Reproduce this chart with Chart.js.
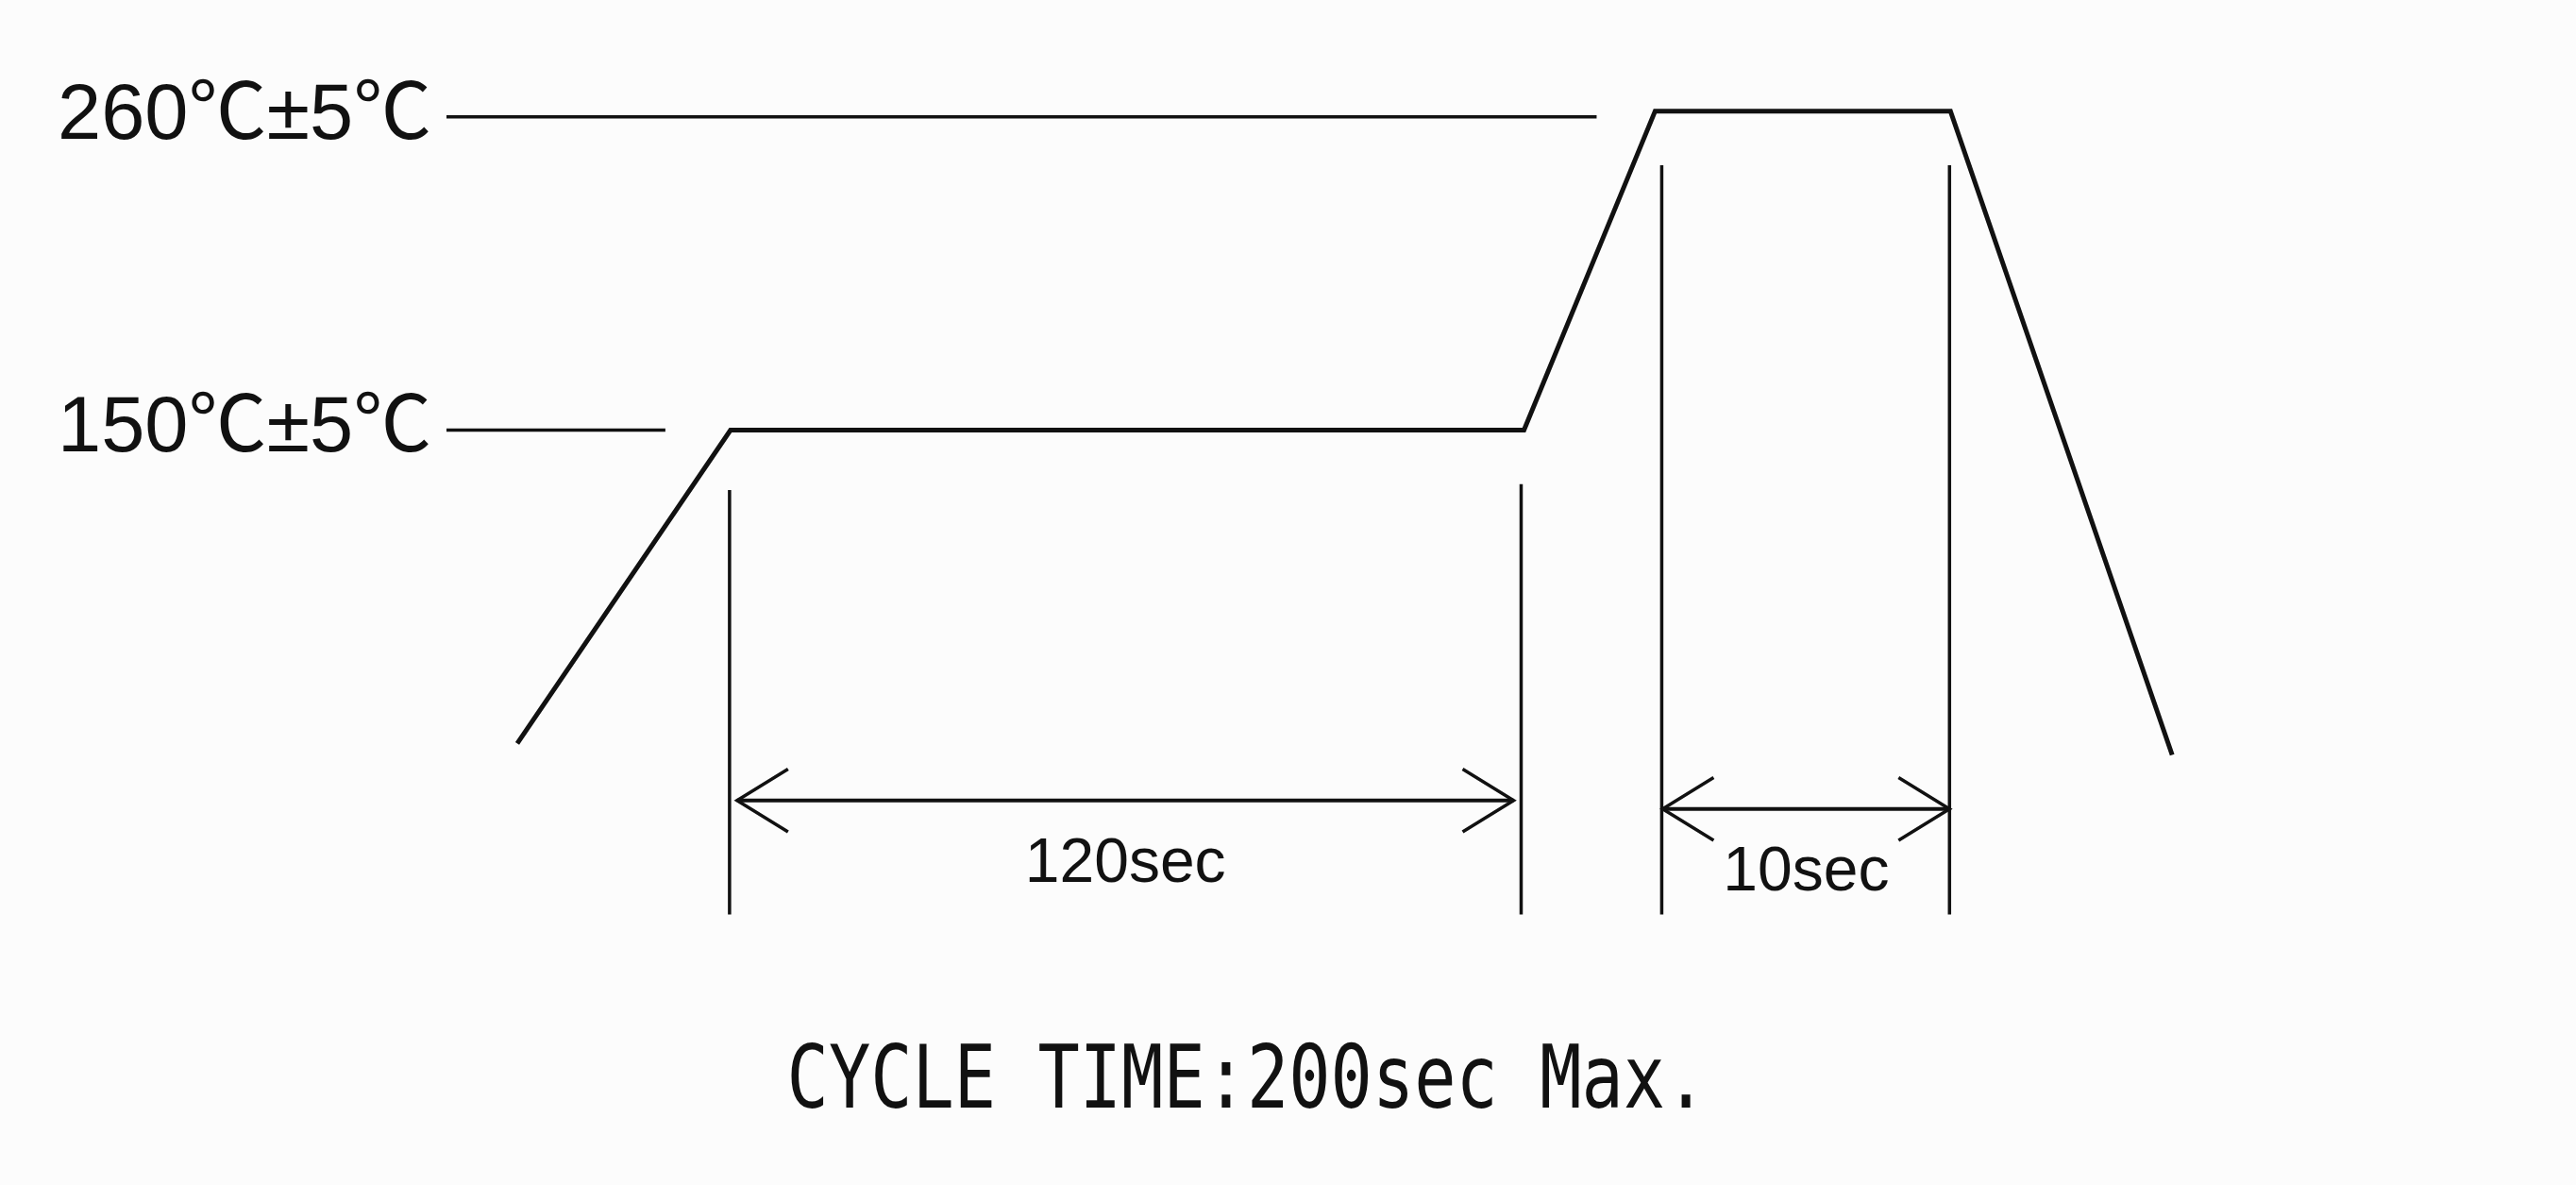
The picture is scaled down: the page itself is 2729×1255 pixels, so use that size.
<!DOCTYPE html>
<html>
<head>
<meta charset="utf-8">
<script src="https://cdn.jsdelivr.net/npm/chart.js@4/dist/chart.umd.min.js"></script>
<style>
  html, body { margin: 0; padding: 0; background: #fcfcfc; }
  #profileChart { display: block; }
</style>
</head>
<body>
<canvas id="profileChart" width="2729" height="1255"></canvas>
<script>
// temperature levels (°C) shown on the left, with their labels
const levelTemps = [150, 260];
const levelLabels = ["150℃±5℃", "260℃±5℃"];
// where each level line stops (schematic time units)
const levelLineEnd = [23.5, 122.2];

// reflow profile: schematic time axis (not to scale) vs temperature
const profileX = [7.8, 30.4, 114.5, 128.4, 159.7, 183.2];
const profileY = [40, 150, 150, 262, 262, 36];

// vertical dimension markers
const markerX = [30.3, 114.2, 129.1, 159.6];
const markerTop = [129, 131, 243, 243];
const markerBottom = -20;

// dimension arrows between the markers
const spanFrom = [31.1, 129.2];
const spanTo = [113.4, 159.6];
const spanY = [20, 17];
const spanLabels = ["120sec", "10sec"];

const footNote = "CYCLE TIME:200sec Max.";

/* styles */
const INK = "#111";
const SANS = '"Liberation Sans", Arial, "Noto Sans CJK JP", sans-serif';
const HEAD_DX = 5.4;   // arrow head length, x units
const HEAD_DY = 11;    // arrow head half height, °C

function seg(points, width) {
  return {
    data: points,
    borderColor: INK,
    borderWidth: width,
    pointRadius: 0,
    fill: false,
    tension: 0
  };
}

const datasets = [];

// profile
datasets.push(seg(profileX.map((x, i) => ({ x, y: profileY[i] })), 5));

// level lines
levelTemps.forEach((t, i) => {
  datasets.push(seg([{ x: 0.3, y: t }, { x: levelLineEnd[i], y: t }], 3.5));
});

// markers
markerX.forEach((x, i) => {
  datasets.push(seg([{ x, y: markerBottom }, { x, y: markerTop[i] }], 3.5));
});

// arrows (shaft + two heads)
spanFrom.forEach((x0, i) => {
  const x1 = spanTo[i], y = spanY[i];
  datasets.push(seg([{ x: x0, y }, { x: x1, y }], 4));
  datasets.push(seg([{ x: x0 + HEAD_DX, y: y + HEAD_DY }, { x: x0, y }, { x: x0 + HEAD_DX, y: y - HEAD_DY }], 3.5));
  datasets.push(seg([{ x: x1 - HEAD_DX, y: y + HEAD_DY }, { x: x1, y }, { x: x1 - HEAD_DX, y: y - HEAD_DY }], 3.5));
});

// labels under the arrows and the cycle time note
const annotationText = {
  id: "annotationText",
  afterDatasetsDraw(chart) {
    const { ctx, scales: { x, y } } = chart;
    ctx.save();
    ctx.fillStyle = INK;
    ctx.textAlign = "center";
    ctx.textBaseline = "middle";
    ctx.font = "66px " + SANS;
    spanLabels.forEach((t, i) => {
      const cx = x.getPixelForValue((spanFrom[i] + spanTo[i]) / 2);
      const cy = y.getPixelForValue(spanY[i]) + 68;
      ctx.fillText(t, cx, cy);
    });
    ctx.font = '92px "DejaVu Sans Mono", "Liberation Mono", monospace';
    ctx.translate(1321, 1149);
    ctx.scale(0.80, 1);
    ctx.fillText(footNote, 0, 0);
    ctx.restore();
  }
};

new Chart(document.getElementById("profileChart"), {
  type: "line",
  data: { datasets },
  options: {
    responsive: false,
    animation: false,
    layout: { padding: { left: 61, right: 0, top: 0, bottom: 0 } },
    plugins: { legend: { display: false }, tooltip: { enabled: false } },
    scales: {
      x: { type: "linear", min: 0, max: 226, display: false },
      y: {
        type: "linear",
        min: -115,
        max: 301,
        grid: { display: false },
        border: { display: false },
        afterBuildTicks: axis => { axis.ticks = levelTemps.map(v => ({ value: v })); },
        afterFit: axis => { axis.width = 409; axis.paddingTop = 0; axis.paddingBottom = 0; },
        ticks: {
          autoSkip: false,
          crossAlign: "far",
          padding: 0,
          color: INK,
          font: { size: 83, family: SANS },
          callback: (v, i) => levelLabels[i]
        }
      }
    }
  },
  plugins: [annotationText]
});
</script>
</body>
</html>
